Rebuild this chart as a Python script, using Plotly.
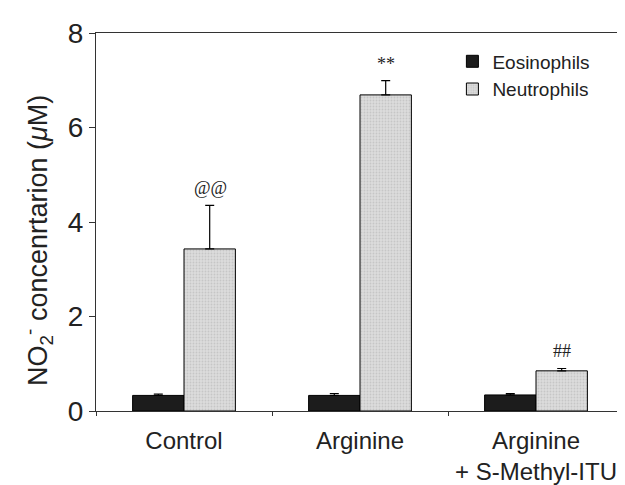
import plotly.graph_objects as go

categories = ["Control", "Arginine", "Arginine<br>+ S-Methyl-ITU"]
eosinophils = [0.33, 0.33, 0.34]
eosinophils_err = [0.03, 0.04, 0.03]
neutrophils = [3.43, 6.69, 0.85]
neutrophils_err = [0.92, 0.30, 0.05]
marks = ["@@", "**", "##"]
y_ticks = [0, 2, 4, 6, 8]
y_title = "NO<sub>2</sub><sup>-</sup> concenrtarion (<i>μ</i>M)"

fig = go.Figure()
fig.add_trace(go.Bar(
    name="Eosinophils", x=categories, y=eosinophils,
    marker=dict(color="#1c1c1c", line=dict(color="#000", width=1)),
    error_y=dict(type="data", array=eosinophils_err, arrayminus=[0]*3, symmetric=False,
                 color="#000", thickness=1.2, width=4.5),
))
fig.add_trace(go.Bar(
    name="Neutrophils", x=categories, y=neutrophils,
    marker=dict(color="#d9d9d9", line=dict(color="#000", width=1),
                pattern=dict(shape=".", fgcolor="#b0b0b0", bgcolor="#dcdcdc", size=3, solidity=0.3)),
    error_y=dict(type="data", array=neutrophils_err, arrayminus=[0]*3, symmetric=False,
                 color="#000", thickness=1.2, width=4.5),
))

for c, v, e, m in zip(categories, neutrophils, neutrophils_err, marks):
    fig.add_annotation(x=c, y=v + e, text=m, showarrow=False, xshift=26, yshift=17,
                       font=dict(family="Liberation Serif", size=18, color="#222"))

fig.add_annotation(text=y_title, xref="paper", yref="paper", x=0, y=0.45,
                   xanchor="center", yanchor="middle", xshift=-58, textangle=-90,
                   showarrow=False, font=dict(size=27, color="#222"))

fig.update_layout(
    width=625, height=485,
    margin=dict(l=88, r=8, t=25, b=75),
    paper_bgcolor="white", plot_bgcolor="white",
    barmode="group", bargap=0.416, bargroupgap=0,
    font=dict(family="Liberation Sans", color="#222"),
    showlegend=True,
    legend=dict(x=0.675, y=0.975, xanchor="left", yanchor="top",
                font=dict(size=19, color="#222"), bgcolor="rgba(0,0,0,0)",
                tracegroupgap=0, itemwidth=30),
)
fig.update_xaxes(
    showline=True, linecolor="#333", linewidth=1, mirror=True,
    ticks="outside", ticklen=4, tickcolor="#333", tickson="boundaries",
    ticklabelstandoff=8,
    tickfont=dict(size=24, color="#222"), showgrid=False,
)
fig.update_yaxes(
    range=[0, 8], tickvals=y_ticks,
    showline=True, linecolor="#333", linewidth=1, mirror=True,
    ticks="outside", ticklen=6, tickcolor="#333",
    tickfont=dict(size=28, color="#222"), showgrid=False, zeroline=False,
)

fig.write_html("out.html")
